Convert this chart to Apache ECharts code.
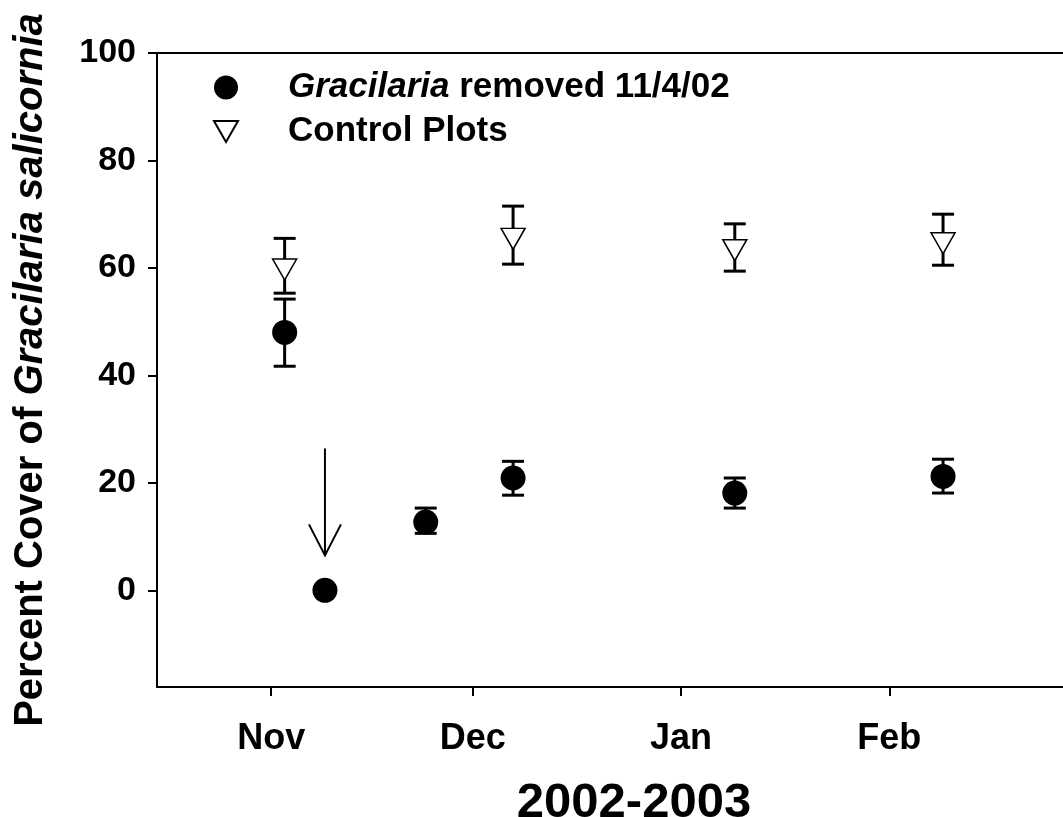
<!DOCTYPE html>
<html>
<head>
<meta charset="utf-8">
<script src="https://cdn.jsdelivr.net/npm/echarts@6/dist/echarts.min.js"></script>
<style>
  html, body { margin: 0; padding: 0; background: #fff; overflow: hidden; }
  #chart { width: 1063px; height: 817px; }
</style>
</head>
<body>
<div id="chart"></div>
<script>
// removal treatment (filled circles)
var removedDates = ['2002-11-03', '2002-11-09', '2002-11-24', '2002-12-07', '2003-01-09', '2003-02-09']
var removedMean = [48.0, 0, 12.7, 20.9, 18.1, 21.2]
var removedLow = [41.7, null, 10.6, 17.7, 15.3, 18.1]
var removedHigh = [54.2, null, 15.3, 24.0, 20.9, 24.4]

// control plots (open triangles)
var controlDates = ['2002-11-03', '2002-12-07', '2003-01-09', '2003-02-09']
var controlMean = [59.7, 65.4, 63.3, 64.6]
var controlLow = [55.3, 60.7, 59.4, 60.5]
var controlHigh = [65.5, 71.5, 68.2, 70.0]

// x ticks
var tickDates = ['2002-11-01', '2002-12-01', '2003-01-01', '2003-02-01']
var tickLabels = ['Nov', 'Dec', 'Jan', 'Feb']
var yTicks = [0, 20, 40, 60, 80, 100]

// arrow marking the removal date: [date, top, tip]
var arrowDate = '2002-11-09'
var arrowTop = 26.4
var arrowTip = 6.5

function ts (s) {
  var p = s.split('-')
  return Date.UTC(+p[0], +p[1] - 1, +p[2])
}

var tickTs = tickDates.map(ts)
var FONT = '"Liberation Sans", Arial, Helvetica, sans-serif'
var xMin = ts('2002-10-15')
var xMax = ts('2003-03-06')

var removedPts = removedDates.map(function (d, i) { return [ts(d), removedMean[i]] })
var removedErr = []
removedDates.forEach(function (d, i) {
  if (removedLow[i] != null) removedErr.push([ts(d), removedLow[i], removedHigh[i]])
})
var controlPts = controlDates.map(function (d, i) { return [ts(d), controlMean[i]] })
var controlErr = controlDates.map(function (d, i) { return [ts(d), controlLow[i], controlHigh[i]] })

var barStyle = { stroke: '#000', lineWidth: 3 }

function renderError (params, api) {
  var x = api.value(0)
  var top = api.coord([x, api.value(2)])
  var bot = api.coord([x, api.value(1)])
  var half = 11
  return {
    type: 'group',
    children: [
      { type: 'line', shape: { x1: top[0], y1: top[1], x2: bot[0], y2: bot[1] }, style: barStyle },
      { type: 'line', shape: { x1: top[0] - half, y1: top[1], x2: top[0] + half, y2: top[1] }, style: barStyle },
      { type: 'line', shape: { x1: bot[0] - half, y1: bot[1], x2: bot[0] + half, y2: bot[1] }, style: barStyle }
    ]
  }
}

function renderArrow (params, api) {
  var x = api.value(0)
  var top = api.coord([x, api.value(1)])
  var tip = api.coord([x, api.value(2)])
  var st = { stroke: '#000', lineWidth: 2 }
  return {
    type: 'group',
    children: [
      { type: 'line', shape: { x1: top[0], y1: top[1], x2: tip[0], y2: tip[1] }, style: st },
      { type: 'polyline', shape: { points: [[tip[0] - 16, tip[1] - 31], [tip[0], tip[1]], [tip[0] + 16, tip[1] - 31]] }, style: { stroke: '#000', lineWidth: 2, fill: null } }
    ]
  }
}

var chart = echarts.init(document.getElementById('chart'))
chart.setOption({
  backgroundColor: '#fff',
  animation: false,
  // plot box runs a little past the right edge, as in the cropped original
  grid: { left: 157, top: 53, right: -48, bottom: 130, outerBoundsMode: 'none', containLabel: false },
  legend: {
    orient: 'vertical',
    left: 213,
    top: 70,
    padding: 0,
    itemWidth: 24,
    itemHeight: 24,
    itemGap: 9,
    selectedMode: false,
    data: [
      { name: 'removed', icon: 'circle' },
      { name: 'control', icon: 'path://M0,0 L24,0 L12,21 Z' }
    ],
    formatter: function (name) {
      if (name === 'removed') return '{s|}{i|Gracilaria}{b| removed 11/4/02}'
      return '{s|}{b|Control Plots}'
    },
    textStyle: {
      rich: {
        s: { width: 45, height: 40 },
        i: { fontFamily: FONT, fontSize: 35, fontWeight: 'bold', fontStyle: 'italic', color: '#000', lineHeight: 40 },
        b: { fontFamily: FONT, fontSize: 35, fontWeight: 'bold', color: '#000', lineHeight: 40 }
      }
    }
  },
  xAxis: [
    {
      type: 'value',
      min: xMin,
      max: xMax,
      splitLine: { show: false },
      axisLine: { onZero: false, lineStyle: { color: '#000', width: 2 } },
      axisTick: { show: true, length: 9, customValues: tickTs, lineStyle: { color: '#000', width: 2 } },
      axisLabel: {
        customValues: tickTs,
        margin: 34,
        fontFamily: FONT,
        fontSize: 36,
        fontWeight: 'bold',
        color: '#000',
        formatter: function (v) {
          var i = tickTs.indexOf(v)
          return i >= 0 ? tickLabels[i] : ''
        }
      },
      name: '2002-2003',
      nameLocation: 'middle',
      nameGap: 92,
      nameTextStyle: { fontFamily: FONT, fontSize: 49, fontWeight: 'bold', color: '#000' }
    },
    {
      type: 'value',
      position: 'top',
      min: xMin,
      max: xMax,
      splitLine: { show: false },
      axisLine: { show: true, onZero: false, lineStyle: { color: '#000', width: 2 } },
      axisTick: { show: false },
      axisLabel: { show: false }
    }
  ],
  yAxis: {
    type: 'value',
    min: -18,
    max: 100,
    splitLine: { show: false },
    axisLine: { show: true, onZero: false, lineStyle: { color: '#000', width: 2 } },
    axisTick: { show: true, length: 9, customValues: yTicks, lineStyle: { color: '#000', width: 2 } },
    axisLabel: {
      customValues: yTicks,
      margin: 21,
      fontFamily: FONT,
      fontSize: 34,
      fontWeight: 'bold',
      color: '#000'
    },
    name: '{n|Percent Cover of }{i|Gracilaria salicornia}',
    nameLocation: 'middle',
    nameGap: 106,
    nameTextStyle: {
      rich: {
        n: { fontFamily: FONT, fontSize: 40, fontWeight: 'bold', color: '#000' },
        i: { fontFamily: FONT, fontSize: 40, fontWeight: 'bold', fontStyle: 'italic', color: '#000' }
      }
    }
  },
  series: [
    {
      name: 'removedErr',
      type: 'custom',
      renderItem: renderError,
      encode: { x: 0, y: [1, 2] },
      data: removedErr,
      z: 1
    },
    {
      name: 'controlErr',
      type: 'custom',
      renderItem: renderError,
      encode: { x: 0, y: [1, 2] },
      data: controlErr,
      z: 1
    },
    {
      name: 'arrow',
      type: 'custom',
      renderItem: renderArrow,
      encode: { x: 0, y: [1, 2] },
      data: [[ts(arrowDate), arrowTop, arrowTip]],
      z: 1
    },
    {
      name: 'removed',
      type: 'scatter',
      symbol: 'circle',
      symbolSize: 25,
      itemStyle: { color: '#000', opacity: 1 },
      data: removedPts,
      z: 3
    },
    {
      name: 'control',
      type: 'scatter',
      symbol: 'path://M0,0 L24,0 L12,21 Z',
      symbolSize: [24, 21],
      itemStyle: { color: '#fff', borderColor: '#000', borderWidth: 1.5, opacity: 1 },
      data: controlPts,
      z: 3
    }
  ]
})
</script>
</body>
</html>
